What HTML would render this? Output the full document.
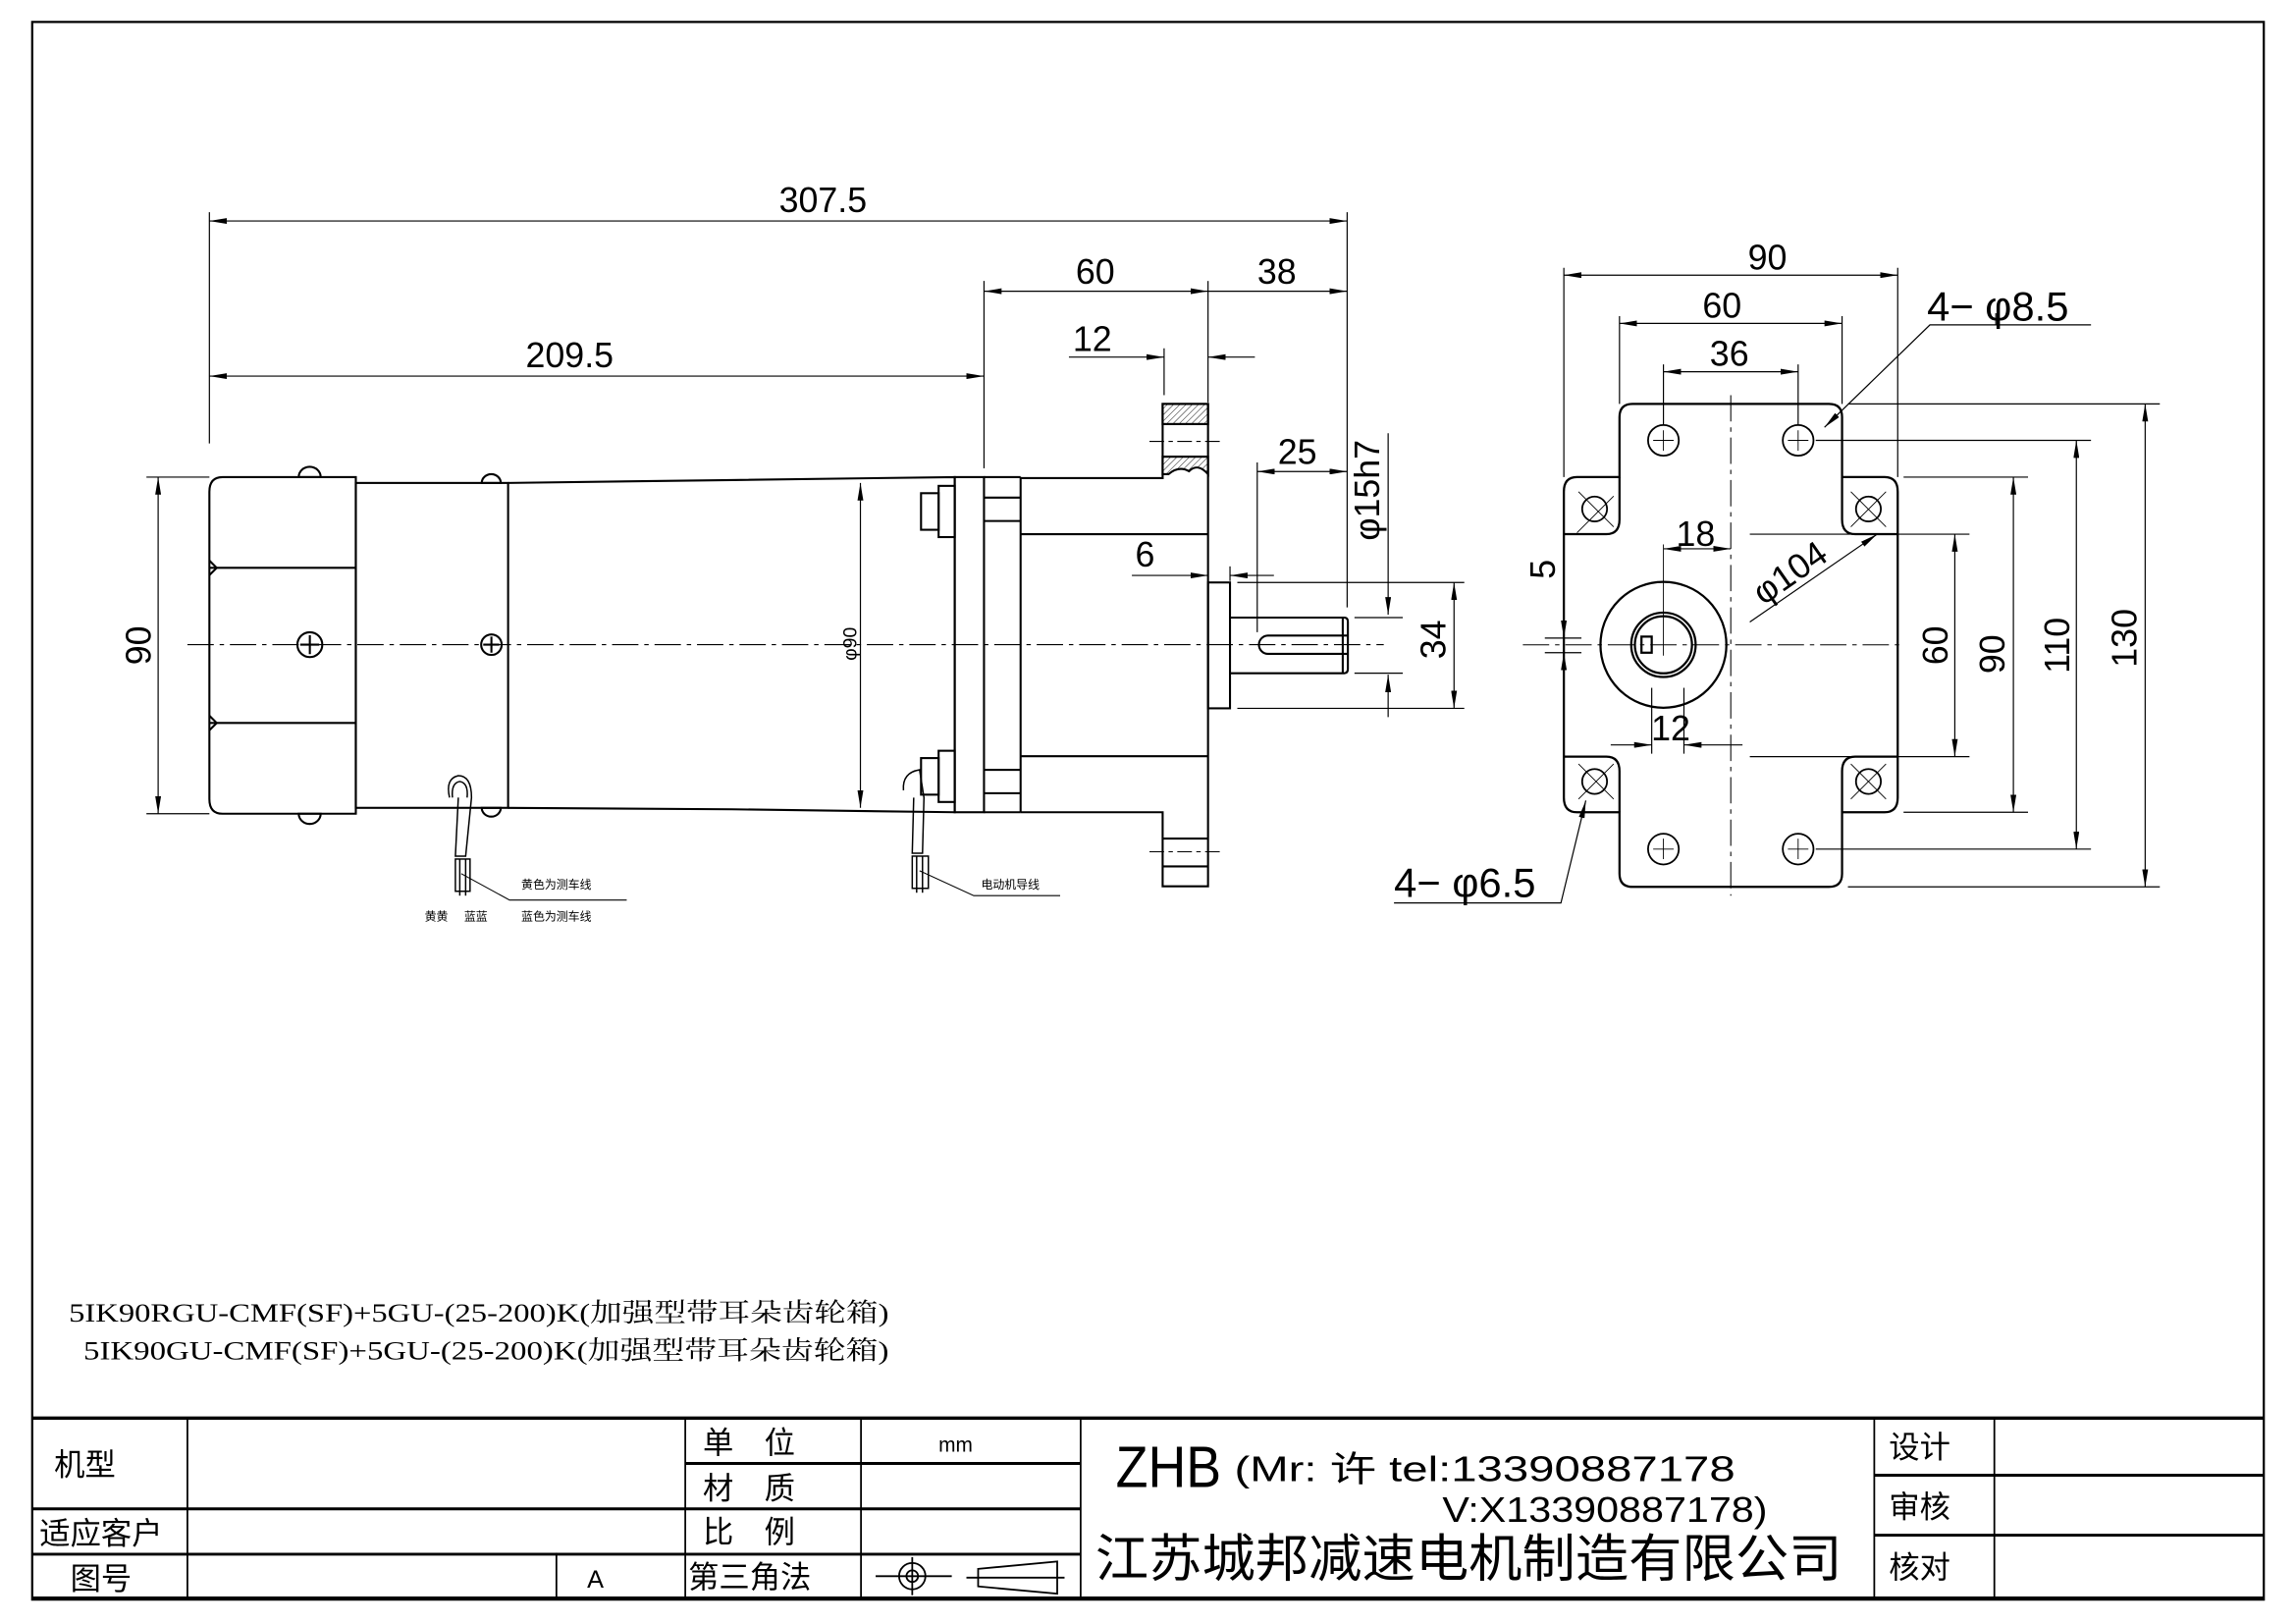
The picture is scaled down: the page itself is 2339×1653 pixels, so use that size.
<!DOCTYPE html>
<html><head><meta charset="utf-8"><style>
html,body{margin:0;padding:0;background:#fff}
svg{display:block}
text{font-family:"Liberation Sans Narrow","Liberation Sans","Noto Sans CJK SC",sans-serif;fill:#000}
.s{font-family:"Liberation Serif","Noto Serif CJK SC",serif}
.c{font-family:"Liberation Sans","Noto Sans CJK SC",sans-serif}
</style></head><body>
<svg width="2339" height="1653" viewBox="0 0 1568 1109" preserveAspectRatio="none" xmlns="http://www.w3.org/2000/svg">
<defs>
<marker id="a" viewBox="0 0 12 4" refX="12" refY="2" markerWidth="12" markerHeight="4" markerUnits="userSpaceOnUse" orient="auto-start-reverse"><path d="M0,0 L12,2 L0,4z" fill="#000"/></marker>
<pattern id="h" width="3" height="3" patternUnits="userSpaceOnUse" patternTransform="rotate(45)"><line x1="0" y1="0" x2="0" y2="3" stroke="#000" stroke-width="0.6"/></pattern>
</defs>
<rect x="0" y="0" width="1568" height="1109" fill="#fff"/>
<rect x="22" y="15" width="1524" height="1078" fill="none" stroke="#000" stroke-width="1.5"/>
<g stroke="#000" fill="none">
<line x1="22" y1="969" x2="1546" y2="969" stroke-width="2.2"/>
<line x1="22" y1="1092" x2="1546" y2="1092" stroke-width="2.2"/>
<g stroke-width="1.2">
<line x1="128" y1="969" x2="128" y2="1092"/>
<line x1="468" y1="969" x2="468" y2="1092"/>
<line x1="588" y1="969" x2="588" y2="1092"/>
<line x1="738" y1="969" x2="738" y2="1092"/>
<line x1="1280" y1="969" x2="1280" y2="1092"/>
<line x1="1362" y1="969" x2="1362" y2="1092"/>
<line x1="380" y1="1061" x2="380" y2="1092"/>
</g>
<g stroke-width="2">
<line x1="468" y1="1000" x2="738" y2="1000"/>
<line x1="22" y1="1031" x2="738" y2="1031"/>
<line x1="22" y1="1062" x2="738" y2="1062"/>
<line x1="1280" y1="1008" x2="1546" y2="1008"/>
<line x1="1280" y1="1049" x2="1546" y2="1049"/>
</g>
<g stroke-width="1.2">
<circle cx="623" cy="1077" r="9"/><circle cx="623" cy="1077" r="4"/>
<line x1="598" y1="1077" x2="650" y2="1077"/><line x1="623" y1="1064" x2="623" y2="1090"/>
<path d="M668,1072 L722,1067 L722,1089 L668,1084z"/><line x1="660" y1="1078" x2="727" y2="1078"/>
</g>

<g stroke-width="1.4">
<path d="M243,326 L152,326 Q143,326 143,336 L143,546 Q143,556 152,556 L243,556 Z"/>
<line x1="143" y1="388" x2="243" y2="388"/><line x1="143" y1="494" x2="243" y2="494"/>
<path d="M143,383 L148,388 L143,393"/><path d="M143,489 L148,494 L143,499"/>
<rect x="243" y="330" width="104" height="222"/>
<path d="M347,330 L500,328 L652,326 L652,555 L500,553 L347,552"/>
<rect x="652" y="326" width="20" height="229"/>
<line x1="672" y1="326" x2="697" y2="326"/><line x1="672" y1="555" x2="697" y2="555"/>
<line x1="697" y1="326" x2="697" y2="555"/>
<line x1="672" y1="340" x2="697" y2="340"/><line x1="672" y1="356" x2="697" y2="356"/>
<line x1="672" y1="526" x2="697" y2="526"/><line x1="672" y1="542" x2="697" y2="542"/>
<path d="M697,326.7 L794,326.7 L794,276 L825,276 L825,605.6 L794,605.6 L794,555 L697,555"/>
<line x1="697" y1="365" x2="825" y2="365"/><line x1="697" y1="516.7" x2="825" y2="516.7"/>
<rect x="794" y="276" width="31" height="13.8" fill="url(#h)"/>
<path d="M794,312 L825,312 L825,324 Q818,316 812,322 Q805,318 798,324 L794,324z" fill="url(#h)"/>
<line x1="794" y1="289.8" x2="825" y2="289.8"/><line x1="794" y1="312" x2="825" y2="312"/>
<line x1="794" y1="573" x2="825" y2="573"/><line x1="794" y1="592" x2="825" y2="592"/>
<rect x="825" y="398" width="15" height="86"/>
<path d="M840,422 L918,422 Q920.5,422 920.5,425 L920.5,457 Q920.5,460 918,460 L840,460"/>
<path d="M866,434.3 L920,434.3 M866,446.8 L920,446.8 M866,434.3 A6.25,6.25 0 0 0 866,446.8"/>
<line x1="917" y1="422" x2="917" y2="460"/>
<rect x="629" y="337" width="12" height="25"/><rect x="641" y="332" width="11" height="35"/>
<rect x="629" y="518" width="12" height="25"/><rect x="641" y="513" width="11" height="35"/>
<circle cx="211.6" cy="440.5" r="8.5"/><path d="M205,440.5 H218 M211.6,434 V447"/>
<circle cx="335.6" cy="440.5" r="7"/><path d="M330,440.5 H341 M335.6,435 V446"/>
<path d="M204,326 A7.5,7 0 0 1 219,326 Z"/><path d="M204,556 A7.5,7 0 0 0 219,556 Z"/>
<path d="M329,330 A6.5,6 0 0 1 342,330 Z"/><path d="M329,552 A6.5,6 0 0 0 342,552 Z"/>
</g>
<g stroke-width="1">
<path d="M307,545 Q304,532 313,530 Q322,530 322,545 L318,585 L311,585 L313,545"/>
<path d="M309,545 Q308,535 314,534 Q320,535 319,545"/>
<rect x="311" y="587" width="10" height="22"/><line x1="314" y1="587" x2="314" y2="612"/><line x1="318" y1="587" x2="318" y2="612"/>
<path d="M617,540 Q616,528 628,526 L631,545 L630,583 L623,583 L624,545"/>
<rect x="623" y="585" width="11" height="22"/><line x1="626" y1="585" x2="626" y2="610"/><line x1="630" y1="585" x2="630" y2="610"/>
<path d="M315,597 L348,615 L428,615" stroke-width="0.7"/>
<path d="M628,595 L665,612 L724,612" stroke-width="0.7"/>
</g>
<g stroke-width="0.7" stroke-dasharray="18,4,3,4">
<line x1="128" y1="440.5" x2="945" y2="440.5"/>
<line x1="1040" y1="440.6" x2="1300" y2="440.6"/>
<line x1="1182" y1="270" x2="1182" y2="612"/>
</g>
<g stroke-width="0.7" stroke-dasharray="10,3,3,3">
<line x1="785" y1="301.6" x2="835" y2="301.6"/><line x1="785" y1="582" x2="835" y2="582"/>
</g>

<g stroke-width="0.8">
<line x1="143" y1="145" x2="143" y2="303"/><line x1="920" y1="145" x2="920" y2="415"/>
<line x1="672" y1="192" x2="672" y2="320"/><line x1="825" y1="192" x2="825" y2="275"/>
<line x1="143" y1="151" x2="920" y2="151" marker-start="url(#a)" marker-end="url(#a)"/>
<line x1="143" y1="257" x2="672" y2="257" marker-start="url(#a)" marker-end="url(#a)"/>
<line x1="672" y1="199" x2="825" y2="199" marker-start="url(#a)" marker-end="url(#a)"/>
<line x1="825" y1="199" x2="920" y2="199" marker-end="url(#a)"/>
<line x1="795" y1="238" x2="795" y2="270"/>
<line x1="730" y1="244" x2="795" y2="244" marker-end="url(#a)"/>
<line x1="857" y1="244" x2="825" y2="244" marker-end="url(#a)"/>
<line x1="100" y1="326" x2="143" y2="326"/><line x1="100" y1="556" x2="143" y2="556"/>
<line x1="108" y1="326" x2="108" y2="556" marker-start="url(#a)" marker-end="url(#a)"/>
<line x1="587.6" y1="330" x2="587.6" y2="552" marker-start="url(#a)" marker-end="url(#a)"/>
<line x1="858.6" y1="316" x2="858.6" y2="432"/>
<line x1="858.6" y1="322.2" x2="920" y2="322.2" marker-start="url(#a)" marker-end="url(#a)"/>
<line x1="948" y1="296" x2="948" y2="420" marker-end="url(#a)"/>
<line x1="948" y1="490" x2="948" y2="461" marker-end="url(#a)"/>
<line x1="925" y1="422" x2="958" y2="422"/><line x1="925" y1="460" x2="958" y2="460"/>
<line x1="845" y1="398" x2="1000" y2="398"/><line x1="845" y1="484" x2="1000" y2="484"/>
<line x1="993" y1="398" x2="993" y2="484" marker-start="url(#a)" marker-end="url(#a)"/>
<line x1="773" y1="393.2" x2="825" y2="393.2" marker-end="url(#a)"/>
<line x1="870" y1="393.2" x2="840" y2="393.2" marker-end="url(#a)"/>
<line x1="840" y1="387" x2="840" y2="397"/>
</g>

<g stroke-width="1.5">
<path d="M1115,276 L1249,276 Q1258,276 1258,285 L1258,326 L1287,326 Q1296,326 1296,336 L1296,545 Q1296,555 1287,555 L1258,555 L1258,597 Q1258,606 1249,606 L1115,606 Q1106,606 1106,597 L1106,555 L1077,555 Q1068,555 1068,545 L1068,336 Q1068,326 1077,326 L1106,326 L1106,285 Q1106,276 1115,276 Z"/>
<path d="M1068,365 L1097,365 Q1106,365 1106,355 L1106,326"/>
<path d="M1296,365 L1267,365 Q1258,365 1258,355 L1258,326"/>
<path d="M1068,517 L1097,517 Q1106,517 1106,527 L1106,555"/>
<path d="M1296,517 L1267,517 Q1258,517 1258,527 L1258,555"/>
<circle cx="1136" cy="440.6" r="43"/>
<circle cx="1136" cy="440.6" r="22"/><circle cx="1136" cy="440.6" r="19.5"/>
<rect x="1121" y="435" width="7" height="11"/>
</g>
<g stroke-width="1.2">
<circle cx="1136" cy="300.9" r="10.5"/><circle cx="1228" cy="300.9" r="10.5"/>
<circle cx="1136" cy="580.2" r="10.5"/><circle cx="1228" cy="580.2" r="10.5"/>
<circle cx="1089" cy="347.8" r="8.5"/><circle cx="1276" cy="347.8" r="8.5"/>
<circle cx="1089" cy="534" r="8.5"/><circle cx="1276" cy="534" r="8.5"/>
</g>
<g stroke-width="0.6">
<path d="M1129,300.9 H1143 M1136,294 V308 M1221,300.9 H1235 M1228,294 V308 M1129,580.2 H1143 M1136,573 V587 M1221,580.2 H1235 M1228,573 V587"/>
<path d="M1077,364 L1102,339 M1078,336 L1102,360 M1264,336 L1288,360 M1264,360 L1288,336"/>
<path d="M1078,546 L1102,522 M1078,522 L1102,546 M1264,522 L1288,546 M1264,546 L1288,522"/>
<line x1="1136" y1="372" x2="1136" y2="448"/>
</g>
<g stroke-width="0.8">
<line x1="1068" y1="183" x2="1068" y2="326"/><line x1="1296" y1="183" x2="1296" y2="326"/>
<line x1="1106" y1="216" x2="1106" y2="276"/><line x1="1258" y1="216" x2="1258" y2="276"/>
<line x1="1136" y1="249" x2="1136" y2="290"/><line x1="1228" y1="249" x2="1228" y2="290"/>
<line x1="1068" y1="188" x2="1296" y2="188" marker-start="url(#a)" marker-end="url(#a)"/>
<line x1="1106" y1="221" x2="1258" y2="221" marker-start="url(#a)" marker-end="url(#a)"/>
<line x1="1136" y1="254" x2="1228" y2="254" marker-start="url(#a)" marker-end="url(#a)"/>
<path d="M1428,222 L1318,222 L1246,292" marker-end="url(#a)"/>
<line x1="1363" y1="222" x2="1363" y2="214"/>
<line x1="1136" y1="375" x2="1182" y2="375" marker-start="url(#a)" marker-end="url(#a)"/>
<line x1="1195" y1="425" x2="1282" y2="365" marker-end="url(#a)"/>
<line x1="1128" y1="470" x2="1128" y2="515"/><line x1="1150" y1="470" x2="1150" y2="515"/>
<line x1="1100" y1="509" x2="1128" y2="509" marker-end="url(#a)"/>
<line x1="1190" y1="509" x2="1150" y2="509" marker-end="url(#a)"/>
<line x1="1055" y1="436" x2="1080" y2="436"/><line x1="1055" y1="446" x2="1080" y2="446"/>
<line x1="1068" y1="395" x2="1068" y2="436" marker-end="url(#a)"/>
<line x1="1068" y1="486" x2="1068" y2="446" marker-end="url(#a)"/>
<path d="M952,617 L1066,617 L1083,547" marker-end="url(#a)"/>
<line x1="1195" y1="365" x2="1345" y2="365"/><line x1="1195" y1="517" x2="1345" y2="517"/>
<line x1="1300" y1="326" x2="1385" y2="326"/><line x1="1300" y1="555" x2="1385" y2="555"/>
<line x1="1240" y1="300.9" x2="1428" y2="300.9"/><line x1="1240" y1="580.2" x2="1428" y2="580.2"/>
<line x1="1262" y1="276" x2="1475" y2="276"/><line x1="1262" y1="606" x2="1475" y2="606"/>
<line x1="1335" y1="365" x2="1335" y2="517" marker-start="url(#a)" marker-end="url(#a)"/>
<line x1="1375" y1="326" x2="1375" y2="555" marker-start="url(#a)" marker-end="url(#a)"/>
<line x1="1418" y1="300.9" x2="1418" y2="580.2" marker-start="url(#a)" marker-end="url(#a)"/>
<line x1="1465" y1="276" x2="1465" y2="606" marker-start="url(#a)" marker-end="url(#a)"/>
</g>
</g>

<g font-size="24" text-anchor="middle">
<text x="562" y="145">307.5</text>
<text x="389" y="251">209.5</text>
<text x="748" y="194">60</text>
<text x="872" y="194">38</text>
<text x="746" y="240">12</text>
<text x="886" y="317">25</text>
<text x="782" y="387">6</text>
<text transform="translate(103,441) rotate(-90)">90</text>
<text transform="translate(942,335) rotate(-90)">φ15h7</text>
<text transform="translate(987,437) rotate(-90)">34</text>
<text x="1207" y="184">90</text>
<text x="1176" y="217">60</text>
<text x="1181" y="250">36</text>
<text x="1158" y="373">18</text>
<text x="1141" y="506">12</text>
<text transform="translate(1062,389) rotate(-90)">5</text>
<text transform="translate(1227,398) rotate(-35)">φ104</text>
<text transform="translate(1330,441) rotate(-90)">60</text>
<text transform="translate(1369,447) rotate(-90)">90</text>
<text transform="translate(1413,441) rotate(-90)">110</text>
<text transform="translate(1459,436) rotate(-90)">130</text>
</g>
<text x="1316" y="219" font-size="28">4− φ8.5</text>
<text x="952" y="613" font-size="28">4− φ6.5</text>
<text transform="translate(585,440) rotate(-90)" font-size="13" text-anchor="middle">φ90</text>
<text class="c" x="356" y="607" font-size="8">黄色为测车线</text>
<text class="c" x="356" y="629" font-size="8">蓝色为测车线</text>
<text class="c" x="290" y="629" font-size="8">黄黄</text>
<text class="c" x="317" y="629" font-size="8">蓝蓝</text>
<text class="c" x="670" y="607" font-size="8">电动机导线</text>

<text class="s" x="47" y="903" font-size="18" textLength="560" lengthAdjust="spacingAndGlyphs">5IK90RGU-CMF(SF)+5GU-(25-200)K(加强型带耳朵齿轮箱)</text>
<text class="s" x="57" y="929" font-size="18" textLength="550" lengthAdjust="spacingAndGlyphs">5IK90GU-CMF(SF)+5GU-(25-200)K(加强型带耳朵齿轮箱)</text>

<g class="c" font-size="21">
<text x="37" y="1008">机型</text>
<text x="27" y="1055">适应客户</text>
<text x="48" y="1086">图号</text>
<text x="401" y="1085" font-size="17">A</text>
<text x="480" y="993">单　位</text>
<text x="480" y="1024">材　质</text>
<text x="480" y="1054">比　例</text>
<text x="470" y="1085">第三角法</text>
<text x="641" y="992" font-size="14">mm</text>
<text x="1290" y="996">设计</text>
<text x="1290" y="1037">审核</text>
<text x="1290" y="1078">核对</text>
</g>
<text x="762" y="1016" font-size="40" textLength="72" lengthAdjust="spacingAndGlyphs">ZHB</text>
<text class="c" x="843" y="1012" font-size="24" textLength="342" lengthAdjust="spacingAndGlyphs">(Mr: 许 tel:13390887178</text>
<text class="c" x="985" y="1040" font-size="24" textLength="222" lengthAdjust="spacingAndGlyphs">V:X13390887178)</text>
<text class="c" x="748" y="1077" font-size="35" textLength="510" lengthAdjust="spacingAndGlyphs">江苏城邦减速电机制造有限公司</text>
</svg>
</body></html>
